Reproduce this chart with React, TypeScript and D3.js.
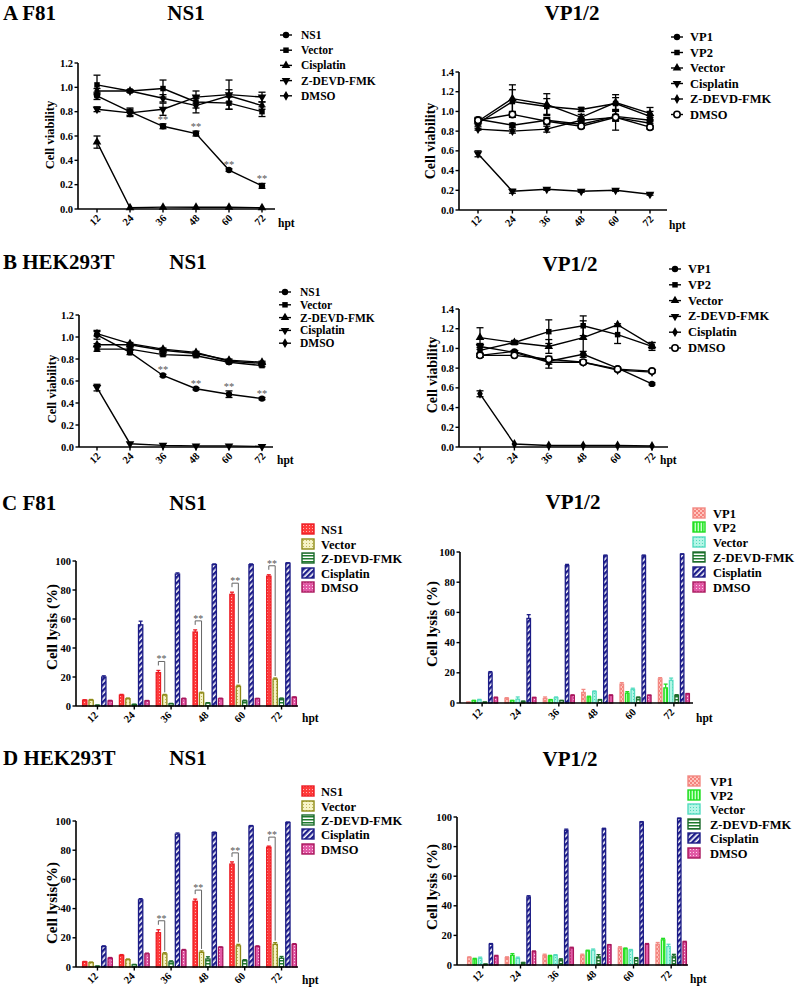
import React from "react";
import * as d3 from "d3";

const HPT = ["12", "24", "36", "48", "60", "72"];
const HPT_NUM = [12, 24, 36, 48, 60, 72];

// ---------- Panel A left: F81 NS1 cell viability ----------
const A_L_NS1 = [0.93, 0.80, 0.68, 0.62, 0.32, 0.19];
const A_L_NS1_E = [0.03, 0.03, 0.02, 0.02, 0.01, 0.02];
const A_L_VEC = [1.02, 0.97, 0.99, 0.88, 0.87, 0.80];
const A_L_VEC_E = [0.08, 0.01, 0.07, 0.05, 0.05, 0.04];
const A_L_CIS = [0.55, 0.01, 0.015, 0.015, 0.015, 0.01];
const A_L_CIS_E = [0.05, 0, 0, 0, 0, 0];
const A_L_ZD = [0.82, 0.79, 0.82, 0.92, 0.94, 0.92];
const A_L_ZD_E = [0.02, 0.03, 0.05, 0.05, 0.12, 0.04];
const A_L_DMSO = [0.97, 0.97, 0.91, 0.85, 0.93, 0.85];
const A_L_DMSO_E = [0.02, 0.01, 0.03, 0.06, 0.05, 0.03];

// ---------- Panel A right: F81 VP1/2 cell viability ----------
const A_R_VP1 = [0.92, 0.86, 0.91, 0.87, 0.95, 0.91];
const A_R_VP1_E = [0.02, 0.02, 0.03, 0.03, 0.05, 0.03];
const A_R_VP2 = [0.88, 1.10, 1.05, 1.02, 1.08, 0.95];
const A_R_VP2_E = [0.03, 0.12, 0.08, 0.02, 0.06, 0.05];
const A_R_VEC = [0.90, 1.13, 1.07, 0.94, 1.09, 0.98];
const A_R_VEC_E = [0.03, 0.14, 0.11, 0.03, 0.08, 0.06];
const A_R_CIS = [0.57, 0.19, 0.21, 0.19, 0.20, 0.16];
const A_R_CIS_E = [0.03, 0.02, 0.01, 0.01, 0.01, 0.01];
const A_R_ZD = [0.82, 0.80, 0.82, 0.91, 0.94, 0.88];
const A_R_ZD_E = [0.01, 0.02, 0.03, 0.02, 0.13, 0.03];
const A_R_DMSO = [0.91, 0.97, 0.90, 0.85, 0.94, 0.84];
const A_R_DMSO_E = [0.02, 0.03, 0.03, 0.02, 0.03, 0.02];

// ---------- Panel B left: HEK293T NS1 cell viability ----------
const B_L_NS1 = [1.02, 0.86, 0.65, 0.53, 0.48, 0.44];
const B_L_NS1_E = [0.04, 0.02, 0.01, 0.01, 0.03, 0.01];
const B_L_VEC = [0.89, 0.89, 0.84, 0.83, 0.77, 0.74];
const B_L_VEC_E = [0.02, 0.01, 0.01, 0.01, 0.01, 0.01];
const B_L_ZD = [0.93, 0.93, 0.88, 0.85, 0.79, 0.77];
const B_L_ZD_E = [0.01, 0.01, 0.01, 0.01, 0.01, 0.01];
const B_L_CIS = [0.54, 0.03, 0.015, 0.01, 0.01, 0.005];
const B_L_CIS_E = [0.03, 0, 0, 0, 0, 0];
const B_L_DMSO = [1.03, 0.94, 0.89, 0.86, 0.78, 0.76];
const B_L_DMSO_E = [0.02, 0.01, 0.01, 0.01, 0.01, 0.01];

// ---------- Panel B right: HEK293T VP1/2 cell viability ----------
const B_R_VP1 = [0.93, 0.97, 0.87, 0.94, 0.80, 0.64];
const B_R_VP1_E = [0.02, 0.01, 0.03, 0.03, 0.01, 0.01];
const B_R_VP2 = [0.98, 1.06, 1.17, 1.23, 1.14, 1.02];
const B_R_VP2_E = [0.05, 0.02, 0.12, 0.10, 0.09, 0.04];
const B_R_VEC = [1.11, 1.06, 1.02, 1.11, 1.24, 1.03];
const B_R_VEC_E = [0.10, 0.01, 0.07, 0.17, 0.01, 0.03];
const B_R_ZD = [1.02, 0.96, 0.86, 0.86, 0.78, 0.76];
const B_R_ZD_E = [0.03, 0.01, 0.06, 0.02, 0.01, 0.01];
const B_R_CIS = [0.54, 0.03, 0.015, 0.015, 0.015, 0.01];
const B_R_CIS_E = [0.03, 0, 0, 0, 0, 0];
const B_R_DMSO = [0.93, 0.93, 0.89, 0.86, 0.79, 0.77];
const B_R_DMSO_E = [0.02, 0.01, 0.01, 0.01, 0.01, 0.01];

// ---------- Panel C left: F81 NS1 cell lysis (%) ----------
const C_L_NS1 = [4, 7.5, 23, 51, 77, 89.5];
const C_L_NS1_E = [0.3, 0.5, 1.5, 1.5, 1.5, 1];
const C_L_VEC = [4, 5, 7.5, 9, 13.5, 18.5];
const C_L_VEC_E = [0.5, 0.5, 0.5, 0.5, 0.8, 0.8];
const C_L_ZD = [0.5, 1, 1.5, 2, 3.5, 5];
const C_L_ZD_E = [0.2, 0.3, 0.3, 0.3, 0.5, 0.5];
const C_L_CIS = [20, 56, 91, 97.5, 97.5, 98.5];
const C_L_CIS_E = [0.8, 2.5, 0.8, 0.5, 0.5, 0.3];
const C_L_DMSO = [3.5, 3.5, 5, 5, 5, 6];
const C_L_DMSO_E = [0.4, 0.3, 0.4, 0.4, 0.3, 0.3];

// ---------- Panel C right: F81 VP1/2 cell lysis (%) ----------
const C_R_VP1 = [0.5, 3, 3, 7, 12.5, 16];
const C_R_VP1_E = [0.2, 0.5, 1, 2, 1, 0.8];
const C_R_VP2 = [1.5, 1.5, 2, 4, 6.5, 10];
const C_R_VP2_E = [0.3, 0.3, 0.3, 0.5, 1, 2.5];
const C_R_VEC = [2, 2.5, 3.5, 7.5, 9, 15];
const C_R_VEC_E = [0.4, 1.5, 0.5, 0.5, 0.8, 1.5];
const C_R_ZD = [0.5, 1, 1.5, 2, 3.5, 5];
const C_R_ZD_E = [0.2, 0.3, 0.3, 0.3, 0.5, 0.5];
const C_R_CIS = [20, 56, 91, 97.5, 97.5, 98.5];
const C_R_CIS_E = [0.8, 2.5, 0.8, 0.5, 0.5, 0.3];
const C_R_DMSO = [3.5, 3.5, 5, 5, 5, 6];
const C_R_DMSO_E = [0.4, 0.3, 0.4, 0.4, 0.3, 0.3];

// ---------- Panel D left: HEK293T NS1 cell lysis (%) ----------
const D_L_NS1 = [3.5, 8, 23.5, 45, 70.5, 82];
const D_L_NS1_E = [0.3, 0.5, 2, 1.5, 1.5, 0.8];
const D_L_VEC = [3, 5, 9, 10, 14.5, 15.5];
const D_L_VEC_E = [0.4, 0.5, 0.8, 1, 1, 1.2];
const D_L_ZD = [0.5, 1.5, 3.5, 5.5, 4.5, 6];
const D_L_ZD_E = [0.2, 0.3, 0.7, 1.5, 0.5, 1.2];
const D_L_CIS = [14, 46, 91, 92, 96.5, 99];
const D_L_CIS_E = [0.5, 0.8, 0.8, 0.4, 0.4, 0.3];
const D_L_DMSO = [6, 9, 11.5, 13.5, 14, 15.5];
const D_L_DMSO_E = [0.5, 0.5, 0.5, 0.3, 0.5, 0.5];

// ---------- Panel D right: HEK293T VP1/2 cell lysis (%) ----------
const D_R_VP1 = [5, 5, 6.5, 6.5, 11.5, 14];
const D_R_VP1_E = [0.5, 0.5, 0.8, 0.8, 0.8, 1.2];
const D_R_VP2 = [4, 6.5, 6, 9.5, 11, 17];
const D_R_VP2_E = [0.5, 1.2, 0.5, 0.5, 0.5, 1];
const D_R_VEC = [4.5, 4.5, 6.5, 10, 10, 12.5];
const D_R_VEC_E = [0.8, 0.8, 0.5, 0.8, 0.5, 1.5];
const D_R_ZD = [0.5, 1.5, 3.5, 5.5, 4.5, 6];
const D_R_ZD_E = [0.2, 0.3, 0.7, 1.5, 0.5, 1.2];
const D_R_CIS = [14, 46, 91, 92, 96.5, 99];
const D_R_CIS_E = [0.5, 0.8, 0.8, 0.4, 0.4, 0.3];
const D_R_DMSO = [6, 9, 11.5, 13.5, 14, 15.5];
const D_R_DMSO_E = [0.5, 0.5, 0.5, 0.3, 0.5, 0.5];

// ---------- bar styles ----------
const BAR_STYLE: Record<string, { fill: string; stroke: string }> = {
  ns1: { fill: "url(#pNS1)", stroke: "#ec1c24" },
  vecL: { fill: "url(#pVecL)", stroke: "#8f8a16" },
  zd: { fill: "url(#pZ)", stroke: "#1b6a2a" },
  cis: { fill: "url(#pCis)", stroke: "#1c1c86" },
  dmso: { fill: "url(#pDMSO)", stroke: "#a8155c" },
  vp1: { fill: "url(#pVP1)", stroke: "#f28a84" },
  vp2: { fill: "url(#pVP2)", stroke: "#22dd22" },
  vecR: { fill: "url(#pVecR)", stroke: "#55dcc0" },
};

type LS = { name: string; sym: string; vals: number[]; errs: number[] };
type BS = { name: string; key: string; vals: number[]; errs: number[] };

function Marker({ sym, x, y }: { sym: string; x: number; y: number }) {
  if (sym === "open")
    return <circle cx={x} cy={y} r={3.2} fill="#fff" stroke="#000" strokeWidth={1.6} />;
  const type =
    sym === "circle" ? d3.symbolCircle : sym === "square" ? d3.symbolSquare : sym === "diamond" ? d3.symbolDiamond : d3.symbolTriangle;
  const size = sym === "diamond" ? 28 : sym === "square" ? 30 : 32;
  const p = d3.symbol().type(type).size(size)() as string;
  return (
    <path d={p} transform={`translate(${x},${y})${sym === "tridown" ? " rotate(180)" : ""}`} fill="#000" />
  );
}

function LinePanel(props: {
  series: LS[];
  xr: [number, number];
  ax: [number, number];
  yr: [number, number];
  yMax: number;
  legMx: number;
  legTx: number;
  legY: number;
  legDy: number;
  legFs: number;
  ylab: [number, number, number];
  hpt: [number, number];
  stars?: number[];
}) {
  const { series, xr, ax, yr, yMax, legMx, legTx, legY, legDy, legFs, ylab, hpt, stars } = props;
  const x = d3.scaleLinear().domain([12, 72]).range(xr);
  const y = d3.scaleLinear().domain([0, yMax]).range(yr);
  const nT = Math.round(yMax / 0.2);
  const ticks = d3.range(0, nT + 1).map((i) => i * 0.2);
  const line = d3
    .line<number>()
    .x((_, i) => x(HPT_NUM[i]))
    .y((d) => y(d));
  return (
    <g>
      {series.map((s) => (
        <path key={"l" + s.name} d={line(s.vals) as string} fill="none" stroke="#000" strokeWidth={1.4} />
      ))}
      {series.map((s) =>
        s.vals.map((v, i) =>
          s.errs[i] > 0.005 ? (
            <g key={"e" + s.name + i} stroke="#000" strokeWidth={1.3}>
              <line x1={x(HPT_NUM[i])} x2={x(HPT_NUM[i])} y1={y(v - s.errs[i])} y2={y(v + s.errs[i])} />
              <line x1={x(HPT_NUM[i]) - 3.5} x2={x(HPT_NUM[i]) + 3.5} y1={y(v + s.errs[i])} y2={y(v + s.errs[i])} />
              <line x1={x(HPT_NUM[i]) - 3.5} x2={x(HPT_NUM[i]) + 3.5} y1={y(v - s.errs[i])} y2={y(v - s.errs[i])} />
            </g>
          ) : null
        )
      )}
      {series.map((s) =>
        s.vals.map((v, i) => <Marker key={"m" + s.name + i} sym={s.sym} x={x(HPT_NUM[i])} y={y(v)} />)
      )}
      {stars &&
        stars.map((i) => (
          <text key={"s" + i} x={x(HPT_NUM[i])} y={y(series[0].vals[i] + series[0].errs[i]) - 1} textAnchor="middle" fontSize={10.5} fill="#555" fontWeight="normal">
            **
          </text>
        ))}
      {/* axes */}
      <line x1={ax[0]} x2={ax[0]} y1={yr[0]} y2={yr[1]} stroke="#000" strokeWidth={1.6} />
      <line x1={ax[0]} x2={ax[1]} y1={yr[0]} y2={yr[0]} stroke="#000" strokeWidth={1.6} />
      {ticks.map((t) => (
        <g key={"yt" + t}>
          <line x1={ax[0] - 3.5} x2={ax[0]} y1={y(t)} y2={y(t)} stroke="#000" strokeWidth={1.4} />
          <text x={ax[0] - 5} y={y(t) + 3.5} textAnchor="end" fontSize={10.5}>
            {t.toFixed(1)}
          </text>
        </g>
      ))}
      {HPT_NUM.map((h, i) => (
        <g key={"xt" + h}>
          <line x1={x(h)} x2={x(h)} y1={yr[0]} y2={yr[0] + 3.5} stroke="#000" strokeWidth={1.4} />
          <text transform={`translate(${x(h) - 2},${yr[0] + 11}) rotate(-45)`} textAnchor="middle" dominantBaseline="central" fontSize={10.5}>
            {HPT[i]}
          </text>
        </g>
      ))}
      <text x={hpt[0]} y={hpt[1]} fontSize={11.5}>
        hpt
      </text>
      <text transform={`translate(${ylab[0]},${ylab[1]}) rotate(-90)`} textAnchor="middle" dominantBaseline="central" fontSize={ylab[2]}>
        Cell viability
      </text>
      {series.map((s, i) => (
        <g key={"lg" + s.name}>
          <line x1={legMx - 6} x2={legMx + 6} y1={legY + i * legDy} y2={legY + i * legDy} stroke="#000" strokeWidth={1.4} />
          <Marker sym={s.sym} x={legMx} y={legY + i * legDy} />
          <text x={legTx} y={legY + i * legDy + 4} fontSize={legFs}>
            {s.name}
          </text>
        </g>
      ))}
    </g>
  );
}

function BarPanel(props: {
  series: BS[];
  ax: [number, number];
  band: [number, number];
  yr: [number, number];
  legX: number;
  legTx: number;
  legYs: number[];
  ylab: [number, number, number];
  ylabText: string;
  hpt: [number, number];
  stars?: number[];
}) {
  const { series, ax, band, yr, legX, legTx, legYs, ylab, ylabText, hpt, stars } = props;
  const x0 = d3.scaleBand().domain(HPT).range(band).paddingInner(0.16).paddingOuter(0);
  const x1 = d3
    .scaleBand()
    .domain(series.map((s) => s.key))
    .range([0, x0.bandwidth()])
    .paddingInner(0.14)
    .paddingOuter(0);
  const y = d3.scaleLinear().domain([0, 100]).range(yr);
  const ticks = [0, 20, 40, 60, 80, 100];
  const bw = x1.bandwidth();
  return (
    <g>
      {series.map((s) =>
        s.vals.map((v, i) => {
          const bx = (x0(HPT[i]) as number) + (x1(s.key) as number);
          const st = BAR_STYLE[s.key];
          const cx = bx + bw / 2;
          return (
            <g key={"b" + s.key + i}>
              <line x1={cx} x2={cx} y1={y(v)} y2={y(v + s.errs[i])} stroke={st.stroke} strokeWidth={1.3} />
              <line x1={cx - 2} x2={cx + 2} y1={y(v + s.errs[i])} y2={y(v + s.errs[i])} stroke={st.stroke} strokeWidth={1.3} />
              <rect x={bx + 0.6} y={y(v)} width={bw - 1.2} height={Math.max(0.01, y(0) - y(v))} fill={st.fill} stroke={st.stroke} strokeWidth={1.3} />
            </g>
          );
        })
      )}
      {stars &&
        stars.map((i) => {
          const a = series[0];
          const b = series[1];
          const xa = (x0(HPT[i]) as number) + (x1(a.key) as number) + bw / 2;
          const xb = (x0(HPT[i]) as number) + (x1(b.key) as number) + bw / 2;
          const top = y(a.vals[i] + a.errs[i]) - 9;
          return (
            <g key={"st" + i}>
              <path d={`M${xa},${top + 4}V${top}H${xb}V${y(b.vals[i] + b.errs[i]) - 2}`} fill="none" stroke="#666" strokeWidth={1} />
              <text x={(xa + xb) / 2} y={top + 1} textAnchor="middle" fontSize={10} fill="#555" fontWeight="normal">
                **
              </text>
            </g>
          );
        })}
      <line x1={ax[0]} x2={ax[0]} y1={yr[0]} y2={yr[1]} stroke="#000" strokeWidth={1.6} />
      <line x1={ax[0]} x2={ax[1]} y1={yr[0]} y2={yr[0]} stroke="#000" strokeWidth={1.6} />
      {ticks.map((t) => (
        <g key={"yt" + t}>
          <line x1={ax[0] - 3.5} x2={ax[0]} y1={y(t)} y2={y(t)} stroke="#000" strokeWidth={1.4} />
          <text x={ax[0] - 5} y={y(t) + 3.5} textAnchor="end" fontSize={10.5}>
            {t}
          </text>
        </g>
      ))}
      {HPT.map((h) => {
        const c = (x0(h) as number) + x0.bandwidth() / 2;
        return (
          <g key={"xt" + h}>
            <line x1={c} x2={c} y1={yr[0]} y2={yr[0] + 3.5} stroke="#000" strokeWidth={1.4} />
            <text transform={`translate(${c - 5},${yr[0] + 11}) rotate(-45)`} textAnchor="middle" dominantBaseline="central" fontSize={10.5}>
              {h}
            </text>
          </g>
        );
      })}
      <text x={hpt[0]} y={hpt[1]} fontSize={11.5}>
        hpt
      </text>
      <text transform={`translate(${ylab[0]},${ylab[1]}) rotate(-90)`} textAnchor="middle" dominantBaseline="central" fontSize={ylab[2]}>
        {ylabText}
      </text>
      {series.map((s, i) => {
        const st = BAR_STYLE[s.key];
        return (
          <g key={"lg" + s.key}>
            <rect x={legX} y={legYs[i] - 5} width={12} height={10} fill={st.fill} stroke={st.stroke} strokeWidth={1.4} />
            <text x={legTx} y={legYs[i] + 4.5} fontSize={12.5}>
              {s.name}
            </text>
          </g>
        );
      })}
    </g>
  );
}

function Defs() {
  return (
    <defs>
      <pattern id="pNS1" width="3" height="3" patternUnits="userSpaceOnUse">
        <rect width="3" height="3" fill="#ff3a3a" />
        <rect width="1" height="1" fill="#ffb4b4" />
      </pattern>
      <pattern id="pVecL" width="3" height="3" patternUnits="userSpaceOnUse">
        <rect width="3" height="3" fill="#f6f3c6" />
        <rect width="1" height="1" fill="#bdb55a" />
      </pattern>
      <pattern id="pZ" width="3" height="3" patternUnits="userSpaceOnUse">
        <rect width="3" height="3" fill="#ffffff" />
        <rect width="3" height="1.5" fill="#1f7a2e" />
      </pattern>
      <pattern id="pCis" width="4" height="4" patternUnits="userSpaceOnUse" patternTransform="rotate(45)">
        <rect width="4" height="4" fill="#ffffff" />
        <rect width="2.4" height="4" fill="#1c1c8a" />
      </pattern>
      <pattern id="pDMSO" width="3" height="3" patternUnits="userSpaceOnUse">
        <rect width="3" height="3" fill="#e25aa6" />
        <rect width="1" height="1" fill="#fbd0e6" />
      </pattern>
      <pattern id="pVP1" width="4" height="4" patternUnits="userSpaceOnUse">
        <rect width="4" height="4" fill="#ffc4bd" />
        <rect width="2" height="2" fill="#f5827c" />
        <rect x="2" y="2" width="2" height="2" fill="#f5827c" />
      </pattern>
      <pattern id="pVP2" width="3" height="3" patternUnits="userSpaceOnUse">
        <rect width="3" height="3" fill="#c6ffc6" />
        <rect width="1.6" height="3" fill="#2ee82e" />
      </pattern>
      <pattern id="pVecR" width="3" height="3" patternUnits="userSpaceOnUse">
        <rect width="3" height="3" fill="#b4f6e6" />
        <rect width="1" height="1" fill="#4fd8b8" />
      </pattern>
    </defs>
  );
}

const aLeft: LS[] = [
  { name: "NS1", sym: "circle", vals: A_L_NS1, errs: A_L_NS1_E },
  { name: "Vector", sym: "square", vals: A_L_VEC, errs: A_L_VEC_E },
  { name: "Cisplatin", sym: "triangle", vals: A_L_CIS, errs: A_L_CIS_E },
  { name: "Z-DEVD-FMK", sym: "tridown", vals: A_L_ZD, errs: A_L_ZD_E },
  { name: "DMSO", sym: "diamond", vals: A_L_DMSO, errs: A_L_DMSO_E },
];
const aRight: LS[] = [
  { name: "VP1", sym: "circle", vals: A_R_VP1, errs: A_R_VP1_E },
  { name: "VP2", sym: "square", vals: A_R_VP2, errs: A_R_VP2_E },
  { name: "Vector", sym: "triangle", vals: A_R_VEC, errs: A_R_VEC_E },
  { name: "Cisplatin", sym: "tridown", vals: A_R_CIS, errs: A_R_CIS_E },
  { name: "Z-DEVD-FMK", sym: "diamond", vals: A_R_ZD, errs: A_R_ZD_E },
  { name: "DMSO", sym: "open", vals: A_R_DMSO, errs: A_R_DMSO_E },
];
const bLeft: LS[] = [
  { name: "NS1", sym: "circle", vals: B_L_NS1, errs: B_L_NS1_E },
  { name: "Vector", sym: "square", vals: B_L_VEC, errs: B_L_VEC_E },
  { name: "Z-DEVD-FMK", sym: "triangle", vals: B_L_ZD, errs: B_L_ZD_E },
  { name: "Cisplatin", sym: "tridown", vals: B_L_CIS, errs: B_L_CIS_E },
  { name: "DMSO", sym: "diamond", vals: B_L_DMSO, errs: B_L_DMSO_E },
];
const bRight: LS[] = [
  { name: "VP1", sym: "circle", vals: B_R_VP1, errs: B_R_VP1_E },
  { name: "VP2", sym: "square", vals: B_R_VP2, errs: B_R_VP2_E },
  { name: "Vector", sym: "triangle", vals: B_R_VEC, errs: B_R_VEC_E },
  { name: "Z-DEVD-FMK", sym: "tridown", vals: B_R_ZD, errs: B_R_ZD_E },
  { name: "Cisplatin", sym: "diamond", vals: B_R_CIS, errs: B_R_CIS_E },
  { name: "DMSO", sym: "open", vals: B_R_DMSO, errs: B_R_DMSO_E },
];
const cLeft: BS[] = [
  { name: "NS1", key: "ns1", vals: C_L_NS1, errs: C_L_NS1_E },
  { name: "Vector", key: "vecL", vals: C_L_VEC, errs: C_L_VEC_E },
  { name: "Z-DEVD-FMK", key: "zd", vals: C_L_ZD, errs: C_L_ZD_E },
  { name: "Cisplatin", key: "cis", vals: C_L_CIS, errs: C_L_CIS_E },
  { name: "DMSO", key: "dmso", vals: C_L_DMSO, errs: C_L_DMSO_E },
];
const cRight: BS[] = [
  { name: "VP1", key: "vp1", vals: C_R_VP1, errs: C_R_VP1_E },
  { name: "VP2", key: "vp2", vals: C_R_VP2, errs: C_R_VP2_E },
  { name: "Vector", key: "vecR", vals: C_R_VEC, errs: C_R_VEC_E },
  { name: "Z-DEVD-FMK", key: "zd", vals: C_R_ZD, errs: C_R_ZD_E },
  { name: "Cisplatin", key: "cis", vals: C_R_CIS, errs: C_R_CIS_E },
  { name: "DMSO", key: "dmso", vals: C_R_DMSO, errs: C_R_DMSO_E },
];
const dLeft: BS[] = [
  { name: "NS1", key: "ns1", vals: D_L_NS1, errs: D_L_NS1_E },
  { name: "Vector", key: "vecL", vals: D_L_VEC, errs: D_L_VEC_E },
  { name: "Z-DEVD-FMK", key: "zd", vals: D_L_ZD, errs: D_L_ZD_E },
  { name: "Cisplatin", key: "cis", vals: D_L_CIS, errs: D_L_CIS_E },
  { name: "DMSO", key: "dmso", vals: D_L_DMSO, errs: D_L_DMSO_E },
];
const dRight: BS[] = [
  { name: "VP1", key: "vp1", vals: D_R_VP1, errs: D_R_VP1_E },
  { name: "VP2", key: "vp2", vals: D_R_VP2, errs: D_R_VP2_E },
  { name: "Vector", key: "vecR", vals: D_R_VEC, errs: D_R_VEC_E },
  { name: "Z-DEVD-FMK", key: "zd", vals: D_R_ZD, errs: D_R_ZD_E },
  { name: "Cisplatin", key: "cis", vals: D_R_CIS, errs: D_R_CIS_E },
  { name: "DMSO", key: "dmso", vals: D_R_DMSO, errs: D_R_DMSO_E },
];

const TITLE_FS = 21;

export default function App() {
  return (
    <div style={{ position: "absolute", left: 0, top: 0 }}>
      <svg
        width={800}
        height={988}
        style={{ display: "block", background: "#fff" }}
        fontFamily="'Liberation Serif','Times New Roman',serif"
        fontWeight="bold"
      >
        <Defs />
        {/* titles */}
        <text x={3} y={20} fontSize={TITLE_FS}>A F81</text>
        <text x={186} y={20} fontSize={TITLE_FS} textAnchor="middle">NS1</text>
        <text x={572} y={20} fontSize={TITLE_FS} textAnchor="middle">VP1/2</text>
        <text x={3} y={269} fontSize={TITLE_FS}>B HEK293T</text>
        <text x={188} y={269} fontSize={TITLE_FS} textAnchor="middle">NS1</text>
        <text x={570} y={271} fontSize={TITLE_FS} textAnchor="middle">VP1/2</text>
        <text x={2} y={510} fontSize={TITLE_FS}>C F81</text>
        <text x={188} y={510} fontSize={TITLE_FS} textAnchor="middle">NS1</text>
        <text x={573} y={509} fontSize={TITLE_FS} textAnchor="middle">VP1/2</text>
        <text x={3} y={765} fontSize={TITLE_FS}>D HEK293T</text>
        <text x={188} y={765} fontSize={TITLE_FS} textAnchor="middle">NS1</text>
        <text x={570} y={766} fontSize={TITLE_FS} textAnchor="middle">VP1/2</text>

        <LinePanel series={aLeft} xr={[97, 262]} ax={[78, 275]} yr={[209, 63]} yMax={1.2}
          legMx={286} legTx={301} legY={35} legDy={15.2} legFs={11.5} ylab={[50, 135, 12.5]} hpt={[278, 227]} stars={[2, 3, 4, 5]} />
        <LinePanel series={aRight} xr={[478, 650]} ax={[459, 667]} yr={[210, 72]} yMax={1.4}
          legMx={677} legTx={690} legY={37} legDy={15.5} legFs={12.5} ylab={[430, 141, 14]} hpt={[669, 229]} />
        <LinePanel series={bLeft} xr={[97, 262]} ax={[79, 273]} yr={[447, 315]} yMax={1.2}
          legMx={285} legTx={300} legY={292} legDy={12.8} legFs={11.5} ylab={[52, 389, 12.5]} hpt={[277, 464]} stars={[2, 3, 4, 5]} />
        <LinePanel series={bRight} xr={[480, 652]} ax={[459, 668]} yr={[447, 309]} yMax={1.4}
          legMx={675} legTx={688} legY={269} legDy={15.8} legFs={12.5} ylab={[432, 375, 14]} hpt={[660, 464]} />

        <BarPanel series={cLeft} ax={[76, 298]} band={[82, 297]} yr={[706, 561]} legX={302} legTx={321}
          legYs={[529, 544, 558, 573, 587]} ylab={[52, 627, 15]} ylabText="Cell lysis (%)" hpt={[302, 722]} stars={[2, 3, 4, 5]} />
        <BarPanel series={cRight} ax={[460, 693]} band={[466, 690]} yr={[703, 552]} legX={693} legTx={713}
          legYs={[513, 527, 542, 557, 572, 587]} ylab={[432, 624, 15]} ylabText="Cell lysis (%)" hpt={[696, 722]} />
        <BarPanel series={dLeft} ax={[76, 298]} band={[82, 297]} yr={[967, 821]} legX={302} legTx={321}
          legYs={[791, 806, 820, 834, 849]} ylab={[52, 903, 15]} ylabText="Cell lysis(%)" hpt={[302, 984]} stars={[2, 3, 4, 5]} />
        <BarPanel series={dRight} ax={[457, 688]} band={[467, 687]} yr={[965, 817]} legX={688} legTx={710}
          legYs={[781, 795, 809, 824, 838, 853]} ylab={[432, 887, 15]} ylabText="Cell lysis (%)" hpt={[690, 983]} />
      </svg>
    </div>
  );
}
